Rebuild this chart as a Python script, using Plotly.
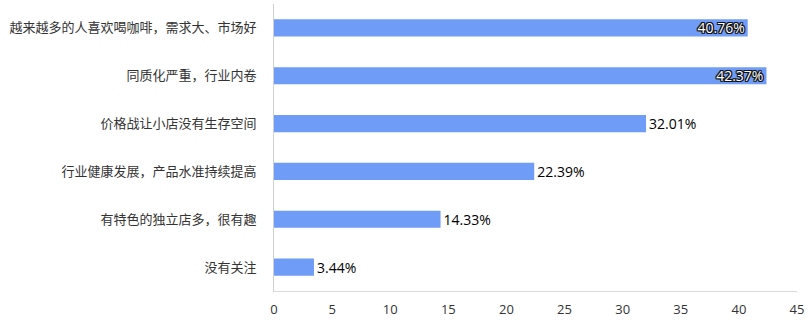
import plotly.graph_objects as go

categories = [
    "越来越多的人喜欢喝咖啡，需求大、市场好",
    "同质化严重，行业内卷",
    "价格战让小店没有生存空间",
    "行业健康发展，产品水准持续提高",
    "有特色的独立店多，很有趣",
    "没有关注",
]
values = [40.76, 42.37, 32.01, 22.39, 14.33, 3.44]
value_labels = ["40.76%", "42.37%", "32.01%", "22.39%", "14.33%", "3.44%"]
x_ticks = [0, 5, 10, 15, 20, 25, 30, 35, 40, 45]

bar_color = "#6f9cf6"
font_family = "Noto Sans CJK SC, Microsoft YaHei, sans-serif"
num_family = "Open Sans, Noto Sans, sans-serif"

positions = ["inside" if v > 40 else "outside" for v in values]

outline = ("1px 0 0 #111, -1px 0 0 #111, 0 1px 0 #111, 0 -1px 0 #111, "
           "1px 1px 0 #111, -1px -1px 0 #111, 1px -1px 0 #111, -1px 1px 0 #111")

fig = go.Figure()
fig.add_trace(go.Bar(
    x=values,
    y=categories,
    orientation="h",
    marker=dict(color=bar_color, line=dict(width=0)),
    width=0.36,
    text=value_labels,
    textposition=positions,
    insidetextanchor="end",
    constraintext="none",
    textfont=dict(family=num_family, size=14, color="black"),
    insidetextfont=dict(family=num_family, size=14, color="white", shadow=outline),
    outsidetextfont=dict(family=num_family, size=14, color="black"),
    cliponaxis=False,
    hoverinfo="skip",
))

fig.update_layout(
    width=810, height=322,
    margin=dict(l=274, r=13, t=4, b=29),
    paper_bgcolor="white",
    plot_bgcolor="white",
    showlegend=False,
    font=dict(family=font_family, size=13, color="#333333"),
    bargap=0.64,
    xaxis=dict(
        range=[0, 45],
        tickvals=x_ticks,
        ticktext=[str(t) for t in x_ticks],
        showgrid=False,
        zeroline=False,
        showline=True,
        linecolor="#d9d9d9",
        linewidth=1,
        ticks="",
        ticklabelstandoff=6,
        tickfont=dict(family=num_family, size=13, color="#333333"),
    ),
    yaxis=dict(
        autorange="reversed",
        showgrid=False,
        zeroline=False,
        showline=True,
        linecolor="#d0d0d0",
        linewidth=1,
        ticks="",
        ticklabelstandoff=14,
        tickfont=dict(family=font_family, size=13, color="#333333"),
    ),
)

fig.write_html("out.html")
